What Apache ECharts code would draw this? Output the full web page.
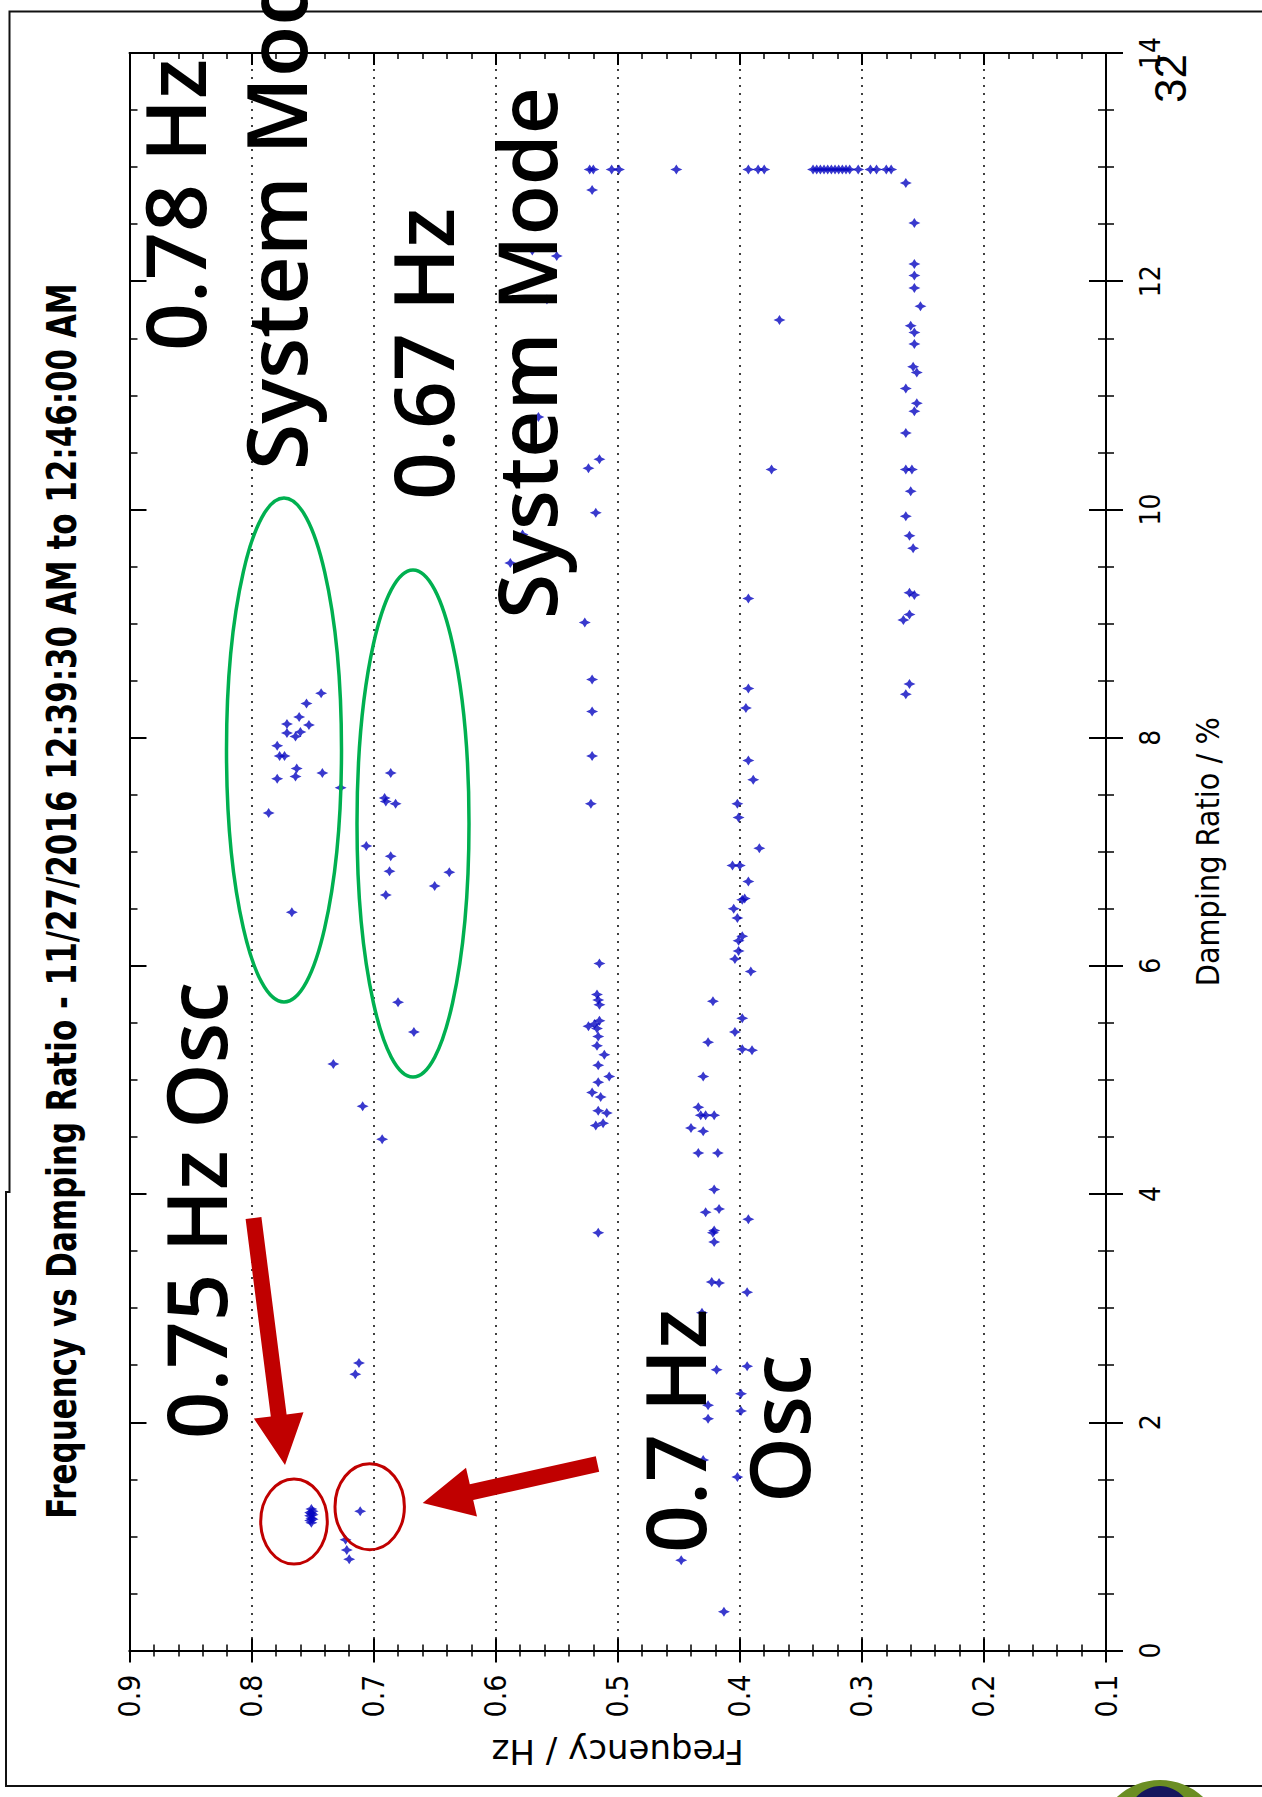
<!DOCTYPE html>
<html>
<head>
<meta charset="utf-8">
<script src="https://cdn.jsdelivr.net/npm/echarts@6/dist/echarts.min.js"></script>
<style>
html,body{margin:0;padding:0;background:#fff;}
#chart{width:1262px;height:1797px;}
</style>
</head>
<body>
<div id="chart"></div>
<script>
// ---------- DATA: [frequency Hz, damping ratio %] ----------
const streak13 = [[0.523,12.98],[0.520,12.98],[0.505,12.98],[0.499,12.98],[0.452,12.98],[0.393,12.98],[0.385,12.98],[0.380,12.98],
  [0.340,12.98],[0.337,12.98],[0.334,12.98],[0.331,12.98],[0.328,12.98],[0.325,12.98],[0.322,12.98],[0.319,12.98],[0.316,12.98],
  [0.313,12.98],[0.310,12.98],[0.303,12.98],[0.293,12.98],[0.288,12.98],[0.280,12.98],[0.276,12.98]];
const col026 = [[0.264,12.86],[0.257,12.51],[0.257,12.15],[0.257,12.05],[0.257,11.94],[0.252,11.78],[0.260,11.61],[0.257,11.55],
  [0.257,11.45],[0.258,11.25],[0.255,11.20],[0.264,11.06],[0.255,10.93],[0.257,10.86],[0.264,10.67],[0.264,10.35],[0.259,10.35],
  [0.260,10.16],[0.264,9.94],[0.261,9.77],[0.258,9.66],[0.261,9.27],[0.257,9.25],[0.261,9.08],[0.266,9.03],[0.261,8.47],[0.264,8.38]];
const col037 = [[0.3675,11.66],[0.374,10.35]];
const col052Upper = [[0.521,12.80],[0.570,12.27],[0.550,12.22],[0.558,11.84],[0.565,10.81],[0.515,10.44],[0.524,10.36],[0.518,9.97],
  [0.578,9.78],[0.588,9.53],[0.527,9.01],[0.521,8.51],[0.521,8.23],[0.521,7.84],[0.522,7.42]];
const col052Lower = [[0.515,6.02],[0.517,5.75],[0.516,5.70],[0.515,5.66],[0.515,5.52],[0.519,5.49],[0.524,5.47],[0.517,5.45],
  [0.516,5.38],[0.517,5.30],[0.511,5.22],[0.516,5.13],[0.507,5.03],[0.516,4.98],[0.521,4.89],[0.514,4.85],[0.516,4.73],
  [0.509,4.71],[0.512,4.62],[0.518,4.60],[0.516,3.66]];
const col040 = [[0.393,9.22],[0.393,8.43],[0.395,8.26],[0.393,7.80],[0.389,7.63],[0.402,7.42],[0.401,7.30],[0.384,7.03],[0.406,6.88],
  [0.400,6.88],[0.393,6.74],[0.398,6.58],[0.396,6.59],[0.405,6.50],[0.402,6.42],[0.398,6.26],[0.401,6.22],[0.401,6.13],
  [0.404,6.06],[0.391,5.95],[0.398,5.54],[0.404,5.42],[0.398,5.27],[0.390,5.26],[0.393,3.78],[0.394,3.14],[0.394,2.49],
  [0.399,2.25],[0.399,2.10],[0.402,1.52],[0.413,0.34]];
const col043 = [[0.422,5.69],[0.426,5.33],[0.430,5.03],[0.434,4.76],[0.432,4.69],[0.428,4.69],[0.421,4.69],[0.440,4.58],
  [0.430,4.55],[0.434,4.36],[0.418,4.36],[0.421,4.04],[0.428,3.84],[0.417,3.87],[0.421,3.68],[0.422,3.66],[0.421,3.58],
  [0.423,3.23],[0.417,3.22],[0.431,2.96],[0.419,2.46],[0.426,2.15],[0.426,2.03],[0.430,1.67],[0.448,0.79]];
const mode078 = [[0.743,8.39],[0.755,8.30],[0.761,8.18],[0.771,8.12],[0.753,8.11],[0.760,8.05],[0.771,8.04],[0.764,8.01],
  [0.779,7.93],[0.777,7.84],[0.773,7.84],[0.763,7.73],[0.764,7.66],[0.779,7.64],[0.742,7.69],[0.727,7.56],[0.786,7.34],[0.767,6.47]];
const mode067 = [[0.686,7.69],[0.691,7.47],[0.690,7.44],[0.682,7.42],[0.706,7.05],[0.686,6.96],[0.687,6.83],[0.638,6.82],
  [0.650,6.70],[0.690,6.62],[0.680,5.68],[0.667,5.42]];
const others07 = [[0.733,5.14],[0.709,4.77],[0.693,4.48],[0.712,2.52],[0.715,2.42],[0.711,1.22],[0.723,0.97],[0.722,0.88],[0.720,0.80]];
const osc075 = [[0.751,1.12],[0.752,1.14],[0.750,1.15],[0.751,1.16],[0.752,1.18],[0.750,1.19],[0.751,1.20],[0.752,1.21],
  [0.750,1.22],[0.751,1.24]];

const allPoints = [].concat(streak13, col026, col037, col052Upper, col052Lower, col040, col043, mode078, mode067, others07, osc075);

// ---------- AXES ----------
const freqMin = 0.1, freqMax = 0.9, freqStep = 0.1;
const dampMin = 0, dampMax = 14, dampStep = 2;

const NARROW = '"Liberation Sans Narrow", "Arial Narrow", "DejaVu Sans Condensed", sans-serif';
const ANNO = '"Open Sans", "Noto Sans", sans-serif';

function freqAxis(pos, inside, labels) {
  return {
    type: 'value', min: freqMin, max: freqMax, interval: freqStep, inverse: true, position: pos,
    axisLine: { show: true, onZero: false, lineStyle: { color: '#000', width: 2 } },
    axisTick: { show: true, inside: inside, length: 12, lineStyle: { color: '#000', width: 2 } },
    minorTick: { show: true, splitNumber: 5, length: 6, lineStyle: { color: '#000', width: 1.5 } },
    axisLabel: labels ? {
      show: true, rotate: 90, margin: 24, fontFamily: NARROW, fontSize: 30, color: '#000',
      formatter: v => v.toFixed(1), showMinLabel: true, showMaxLabel: true, hideOverlap: false
    } : { show: false },
    splitLine: labels ? { show: true, lineStyle: { type: [2, 6], color: '#111', width: 1.6 } } : { show: false },
    minorSplitLine: { show: false }
  };
}
function dampAxis(pos, inside, labels) {
  return {
    type: 'value', min: dampMin, max: dampMax, interval: dampStep, position: pos,
    axisLine: { show: true, onZero: false, lineStyle: { color: '#000', width: 2 } },
    axisTick: { show: true, inside: inside, length: 17, lineStyle: { color: '#000', width: 2 } },
    minorTick: { show: true, splitNumber: 4, length: 8, lineStyle: { color: '#000', width: 1.5 } },
    axisLabel: labels ? {
      show: true, rotate: 90, margin: 30, fontFamily: NARROW, fontSize: 28, color: '#000',
      showMinLabel: true, showMaxLabel: true, hideOverlap: false
    } : { show: false },
    splitLine: { show: false }, minorSplitLine: { show: false }
  };
}

const x0 = freqAxis('bottom', false, true);
x0.name = 'Frequency / Hz'; x0.nameLocation = 'middle'; x0.nameGap = 84; x0.nameRotate = 180;
x0.nameTextStyle = { fontFamily: '"DejaVu Sans", sans-serif', fontSize: 34, color: '#000' };
const y0 = dampAxis('right', false, true);
y0.name = 'Damping Ratio / %'; y0.nameLocation = 'middle'; y0.nameGap = 86; y0.nameRotate = 90;
y0.nameTextStyle = { fontFamily: NARROW, fontSize: 32, color: '#000' };

// ---------- ANNOTATIONS ----------
function vtext(str, x, y, size, opts) {
  opts = opts || {};
  return {
    type: 'text', x: x, y: y, rotation: Math.PI / 2, scaleX: opts.scaleX || 1, z: 100,
    style: {
      text: str, fill: opts.fill || '#000',
      fontSize: size, fontFamily: opts.family || ANNO, fontWeight: opts.weight || 600,
      align: opts.align || 'left', textAlign: opts.align || 'left',
      verticalAlign: 'middle', textVerticalAlign: 'middle'
    }
  };
}
function ell(cx, cy, rx, ry, color, w) {
  return { type: 'ellipse', z: 99, shape: { cx, cy, rx, ry }, style: { fill: 'none', stroke: color, lineWidth: w } };
}
function poly(points, color) {
  return { type: 'polygon', z: 99, shape: { points }, style: { fill: color } };
}

const graphics = [
  // frame
  { type: 'polyline', z: 1, shape: { points: [[1262, 11.5], [9.5, 11.5], [9.5, 1192], [6, 1192], [6, 1786], [1262, 1786]] },
    style: { stroke: '#111', lineWidth: 2, fill: 'none' } },
  // logo fragment bottom-right
  { type: 'ellipse', z: 2, shape: { cx: 1160, cy: 1850, rx: 66, ry: 70 }, style: { fill: '#6b8e23' } },
  { type: 'ellipse', z: 3, shape: { cx: 1160, cy: 1842, rx: 40, ry: 56 }, style: { fill: '#15175e' } },
  // title
  vtext('Frequency vs Damping Ratio - 11/27/2016 12:39:30 AM to 12:46:00 AM', 62, 901, 40,
    { family: NARROW, weight: 'bold', align: 'center', scaleX: 0.86 }),
  vtext('32', 1170, 103, 44, { family: '"Liberation Sans", sans-serif', weight: 'normal' }),
  // annotations
  vtext('0.78 Hz', 173, 351, 84),
  vtext('System Mode', 274, 470, 84),
  vtext('0.67 Hz', 421, 500, 84),
  vtext('System Mode', 525, 619, 82),
  vtext('0.75 Hz Osc', 194, 1439, 83),
  vtext('0.7 Hz', 673, 1553, 84),
  vtext('Osc', 777, 1503, 84),
  // ellipses
  ell(284, 750, 57.5, 252, '#00b050', 3.5),
  ell(413, 823.5, 56, 253.5, '#00b050', 3.5),
  ell(294, 1521.5, 33.3, 42.5, '#c00000', 3),
  ell(369.7, 1506.7, 34.7, 43, '#c00000', 3),
  // arrows
  poly([[245.6, 1219], [261.4, 1217], [286.6, 1414.4], [303.5, 1412.2], [285, 1465], [253.9, 1418.6], [270.8, 1416.4]], '#c00000'),
  poly([[595.8, 1456.2], [599.2, 1471.8], [473.2, 1499.9], [477, 1516.5], [422.7, 1503], [466, 1467.7], [469.8, 1484.3]], '#c00000')
];

const chart = echarts.init(document.getElementById('chart'), null, { renderer: 'svg', width: 1262, height: 1797 });
chart.setOption({
  backgroundColor: '#fff',
  animation: false,
  grid: { left: 129.5, right: 156, top: 53, bottom: 146.5, containLabel: false },
  xAxis: [x0, freqAxis('bottom', true, false), freqAxis('top', true, false)],
  yAxis: [y0, dampAxis('right', true, false), dampAxis('left', true, false)],
  series: [{
    type: 'scatter', xAxisIndex: 0, yAxisIndex: 0, data: allPoints,
    symbol: 'path://M0,-10L3.5,-3.5L10,0L3.5,3.5L0,10L-3.5,3.5L-10,0L-3.5,-3.5Z', symbolSize: [12, 10],
    itemStyle: { color: '#0808c0' }, silent: true, z: 5
  }],
  graphic: { elements: graphics }
});
</script>
</body>
</html>
